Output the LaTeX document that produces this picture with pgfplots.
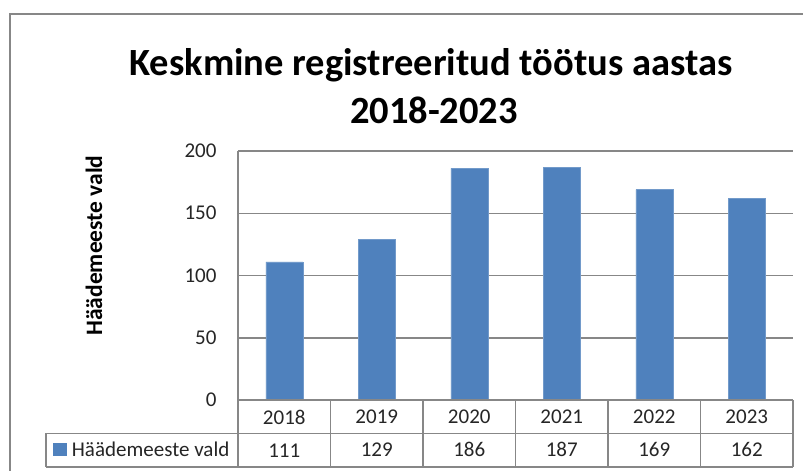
\documentclass[border=0pt]{standalone}
\usepackage{pgfplots}
\pgfplotsset{compat=1.18}
\usepackage{fontspec}
\setmainfont{Carlito}
\definecolor{barblue}{HTML}{4F81BD}
\definecolor{gridgray}{HTML}{878787}
\begin{document}
\begin{tikzpicture}[x=1pt,y=1pt]
\useasboundingbox (0,0) rectangle (803,-471);
\fill[white] (0,0) rectangle (803,-471);
\draw[gridgray, line width=2pt] (10,-471) -- (10,-14) -- (803,-14);
% title
\node[anchor=base, inner sep=0, font=\bfseries\fontsize{38.5}{42}\selectfont] at (431,-75) {Keskmine registreeritud töötus aastas};
\node[anchor=base, inner sep=0, font=\bfseries\fontsize{38.5}{42}\selectfont] at (434,-123.3) {2018-2023};
% y label
\node[rotate=90, anchor=center, inner sep=0, font=\bfseries\fontsize{23.5}{27}\selectfont] at (94,-245.5) {Häädemeeste vald};
\begin{axis}[
  at={(238pt,-400pt)}, anchor=south west,
  scale only axis, width=555pt, height=249pt,
  xmin=-0.5, xmax=5.5, ymin=0, ymax=200,
  axis lines*=left,
  axis line style={gridgray, line width=1.5pt},
  ytick={0,50,100,150,200},
  ymajorgrids,
  major grid style={gridgray, line width=1.5pt},
  tick style={draw=none},
  /pgf/number format/assume math mode=true,
  xtick={0,1,2,3,4,5},
  xticklabels={{2018\\111},{2019\\129},{2020\\186},{2021\\187},{2022\\169},{2023\\162}},
  xticklabel style={align=center, anchor=north, yshift=-6.5pt, text=black!85,
    font=\fontsize{21}{33}\selectfont},
  yticklabel style={anchor=east, xshift=-18pt, text=black!85, font=\fontsize{21}{24}\selectfont},
  clip=false,
]
\addplot[ybar, bar width=37pt, fill=barblue, draw=barblue!80!white] coordinates {
  (0,111) (1,129) (2,186) (3,187) (4,169) (5,162)
};
\end{axis}
% data table lines
\draw[gridgray, line width=1.5pt] (238,-400) -- (793,-400);
\draw[gridgray, line width=1.5pt] (46,-433.3) -- (793,-433.3);
\draw[gridgray, line width=1.5pt] (46,-467) -- (793,-467);
\draw[gridgray, line width=1.5pt] (46,-433.3) -- (46,-467);
\draw[gridgray, line width=1.5pt] (238,-151) -- (238,-467);
\foreach \xx in {330.5,423,515.5,608,700.5,793} {
  \draw[gridgray, line width=1.5pt] (\xx,-400) -- (\xx,-467);
}
% legend key in table
\fill[barblue] (53.3,-443.3) rectangle (66.7,-456.3);
\node[anchor=base west, inner sep=0, text=black!85, font=\fontsize{21}{24}\selectfont] at (71.7,-456) {Häädemeeste vald};
\end{tikzpicture}
\end{document}
